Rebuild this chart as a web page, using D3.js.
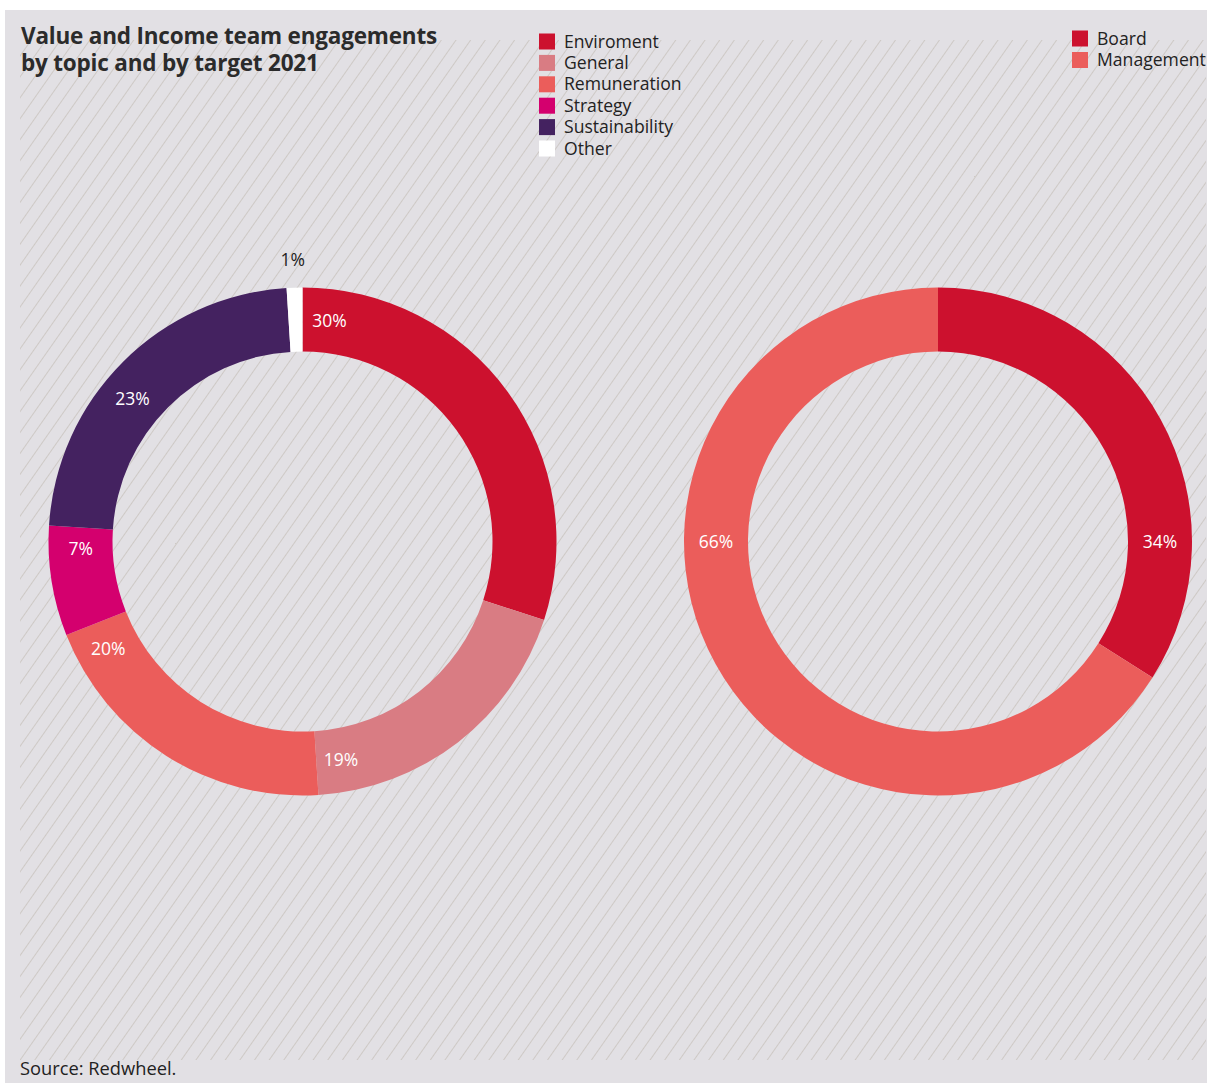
<!DOCTYPE html>
<html>
<head>
<meta charset="utf-8">
<script src="https://cdn.jsdelivr.net/npm/d3@7"></script>
<style>
  html, body { margin: 0; padding: 0; background: #ffffff; }
  svg { display: block; }
  text { font-family: "Open Sans", "Noto Sans", sans-serif; }
</style>
</head>
<body>
<script>
// ---- data ----
const topicCategories = ["Enviroment", "General", "Remuneration", "Strategy", "Sustainability", "Other"];
const topicValues = [30, 19, 20, 7, 23, 1];
const topicColors = ["#cc112e", "#d97c83", "#eb5d5b", "#d4006e", "#442260", "#ffffff"];

const targetCategories = ["Board", "Management"];
const targetValues = [34, 66];
const targetColors = ["#cc112e", "#eb5d5b"];

const titleLines = ["Value and Income team engagements", "by topic and by target 2021"];
const sourceText = "Source: Redwheel.";

// ---- layout (label angle positions, degrees clockwise from top) ----
const topicLabelAngles = [7, 170, 241, 268, 310, -2];
const topicLabelOutside = [false, false, false, false, false, true];
const targetLabelAngles = [90, 270];

const W = 1207, H = 1083;
const svg = d3.select("body").append("svg").attr("width", W).attr("height", H);

// background panel
svg.append("rect").attr("x", 5).attr("y", 10).attr("width", W - 5).attr("height", H - 10).attr("fill", "#e2e0e4");

const defs = svg.append("defs");
const pat = defs.append("pattern")
  .attr("id", "hatch").attr("patternUnits", "userSpaceOnUse")
  .attr("width", 12).attr("height", 12)
  .attr("patternTransform", "rotate(35)");
pat.append("line").attr("x1", 0).attr("y1", 0).attr("x2", 0).attr("y2", 12)
  .attr("stroke", "#c2bcb4").attr("stroke-width", 1.3);
svg.append("rect").attr("x", 20).attr("y", 40).attr("width", 1186).attr("height", 1020).attr("fill", "url(#hatch)");

// title
const title = svg.append("text").attr("x", 21).attr("y", 44)
  .attr("font-size", 22.5).attr("font-weight", 700).attr("fill", "#2b2b2b").attr("letter-spacing", -0.2);
titleLines.forEach((l, i) => title.append("tspan").attr("x", 21).attr("dy", i === 0 ? 0 : 27).text(l));

// source
svg.append("text").attr("x", 20).attr("y", 1075).attr("font-size", 18.3).attr("fill", "#222").text(sourceText);

// legends
function legend(x, y0, cats, colors, step) {
  const g = svg.append("g");
  cats.forEach((c, i) => {
    const y = y0 + i * step;
    g.append("rect").attr("x", x).attr("y", y - 8).attr("width", 16).attr("height", 16).attr("fill", colors[i]);
    g.append("text").attr("x", x + 25).attr("y", y).attr("dy", "0.35em")
      .attr("font-size", 17.6).attr("fill", "#222").text(c);
  });
}
legend(539, 41.5, topicCategories, topicColors, 21.4);
legend(1072, 38.5, targetCategories, targetColors, 21.5);

// donuts
const outerR = 254, innerR = 190, midR = (outerR + innerR) / 2;
function donut(cx, cy, values, colors, labelAngles, outside) {
  const pie = d3.pie().sort(null).value(d => d);
  const arc = d3.arc().innerRadius(innerR).outerRadius(outerR);
  const g = svg.append("g").attr("transform", `translate(${cx},${cy})`);
  const arcs = pie(values);
  g.selectAll("path").data(arcs).join("path")
    .attr("d", arc).attr("fill", (d, i) => colors[i]);
  g.selectAll("text").data(arcs).join("text")
    .attr("x", (d, i) => {
      const r = outside && outside[i] ? 282 : midR;
      return r * Math.sin(labelAngles[i] * Math.PI / 180);
    })
    .attr("y", (d, i) => {
      const r = outside && outside[i] ? 282 : midR;
      return -r * Math.cos(labelAngles[i] * Math.PI / 180);
    })
    .attr("dy", "0.35em")
    .attr("text-anchor", "middle")
    .attr("font-size", 17.5)
    .attr("fill", (d, i) => outside && outside[i] ? "#222" : "#ffffff")
    .text(d => d.data + "%");
}
donut(302.5, 541.5, topicValues, topicColors, topicLabelAngles, topicLabelOutside);
donut(938, 541.5, targetValues, targetColors, targetLabelAngles, null);
</script>
</body>
</html>
